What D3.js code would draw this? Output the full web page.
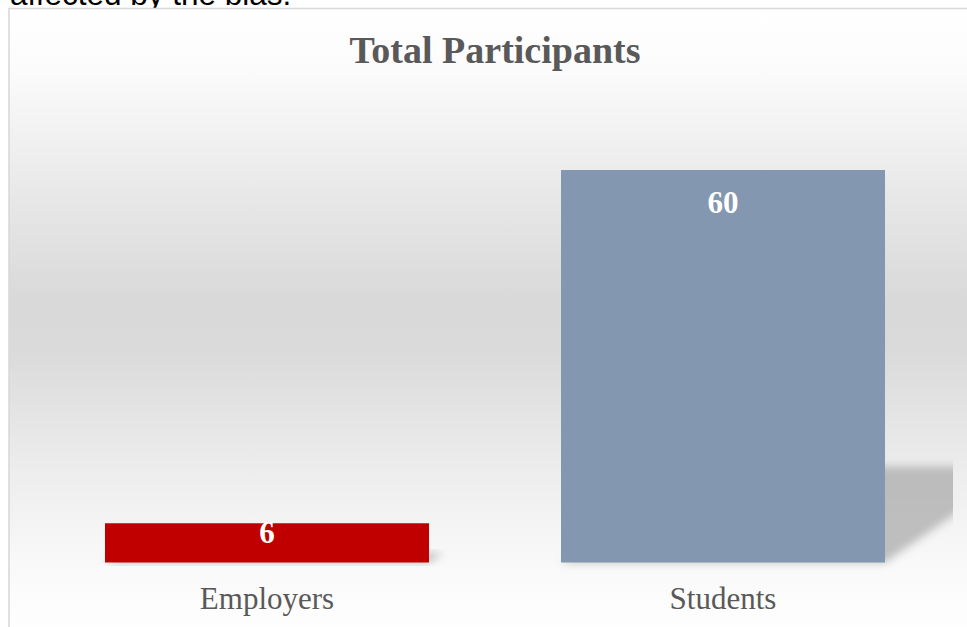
<!DOCTYPE html>
<html>
<head>
<meta charset="utf-8">
<script src="https://cdn.jsdelivr.net/npm/d3@7/dist/d3.min.js"></script>
<style>
  html, body { margin: 0; padding: 0; background: #ffffff; overflow: hidden; }
  svg { display: block; }
</style>
</head>
<body>
<svg id="chart" width="967" height="627"></svg>
<script>
// Chart data
const categories = ["Employers", "Students"];
const participants = [6, 60];
const barColors = ["#C00000", "#8497B0"];
const chartTitle = "Total Participants";
const leadText = "affected by the bias.";

const W = 967, H = 627;
const svg = d3.select("#chart");
const defs = svg.append("defs");

// Vertical light-grey gradient of the chart box
const grad = defs.append("linearGradient")
  .attr("id", "bgGrad").attr("gradientUnits", "userSpaceOnUse")
  .attr("x1", 0).attr("y1", 9).attr("x2", 0).attr("y2", 627);
[[0, "#ffffff"], [0.1, "#fbfbfb"], [0.3, "#e8e8e8"], [0.47, "#d9d9d9"],
 [0.55, "#dadada"], [0.75, "#ededed"], [0.9, "#f9f9f9"], [1, "#fefefe"]]
  .forEach(([o, c]) => grad.append("stop").attr("offset", o).attr("stop-color", c));

// Soft shadow blur
defs.append("filter").attr("id", "shadowBlur")
  .attr("x", "-20%").attr("y", "-30%").attr("width", "140%").attr("height", "160%")
  .append("feGaussianBlur").attr("stdDeviation", 4.5);

// Plot area clip
const plot = { left: 39, right: 951, clipRight: 953, top: 60, bottom: 562.5 };
defs.append("clipPath").attr("id", "plotClip")
  .append("rect").attr("x", plot.left).attr("y", plot.top)
  .attr("width", plot.clipRight - plot.left).attr("height", plot.bottom - plot.top + 10);

// Text above the chart (partially cut off)
svg.append("text")
  .attr("x", 10).attr("y", 5)
  .attr("font-family", "'Liberation Sans', Arial, sans-serif")
  .attr("font-size", 31.5)
  .attr("fill", "#000000")
  .text(leadText);

// Chart box
svg.append("rect")
  .attr("x", 9).attr("y", 8.5)
  .attr("width", W + 20).attr("height", H + 40)
  .attr("fill", "url(#bgGrad)")
  .attr("stroke", "#d9d9d9").attr("stroke-width", 1.6);

// Scales
const x = d3.scaleBand().domain(categories)
  .range([plot.left, plot.right]).paddingInner(0.2895).paddingOuter(0.1447);
const y = d3.scaleLinear().domain([0, 70])
  .range([plot.bottom, plot.bottom - 70 * (plot.bottom - 170) / 60]);

// Perspective shadows behind bars
const shadowG = svg.append("g").attr("clip-path", "url(#plotClip)");
shadowG.selectAll("path").data(categories).join("path")
  .attr("d", (c, i) => {
    const x0 = x(c), x1 = x(c) + x.bandwidth();
    const h = y(0) - y(participants[i]);
    const sh = h * 0.245, skew = sh * 1.45;
    return `M${x0},${y(0)} L${x1},${y(0)} L${x1 + skew},${y(0) - sh} L${x0 + skew},${y(0) - sh} Z`;
  })
  .attr("fill", "#b4b4b4")
  .attr("opacity", 0.85)
  .attr("filter", "url(#shadowBlur)");

// Bars
svg.append("g").selectAll("rect").data(categories).join("rect")
  .attr("x", c => x(c))
  .attr("y", (c, i) => y(participants[i]))
  .attr("width", x.bandwidth())
  .attr("height", (c, i) => y(0) - y(participants[i]))
  .attr("fill", (c, i) => barColors[i]);

// Value labels inside bar ends
svg.append("g").selectAll("text").data(categories).join("text")
  .attr("x", c => x(c) + x.bandwidth() / 2)
  .attr("y", (c, i) => {
    const h = y(0) - y(participants[i]);
    return y(participants[i]) + Math.min(43, h * 0.5);
  })
  .attr("text-anchor", "middle")
  .attr("font-family", "'Liberation Serif', 'Times New Roman', serif")
  .attr("font-weight", "bold")
  .attr("font-size", 31)
  .attr("fill", "#ffffff")
  .text((c, i) => participants[i]);

// Category axis (labels only)
const xAxis = svg.append("g")
  .attr("transform", `translate(0,${plot.bottom})`)
  .call(d3.axisBottom(x).tickSize(0).tickPadding(0));
xAxis.select(".domain").remove();
xAxis.selectAll("text")
  .attr("y", 46.5)
  .attr("dy", null)
  .attr("font-family", "'Liberation Serif', 'Times New Roman', serif")
  .attr("font-size", 31)
  .attr("fill", "#595959");

// Title
svg.append("text")
  .attr("x", 495).attr("y", 63)
  .attr("text-anchor", "middle")
  .attr("font-family", "'Liberation Serif', 'Times New Roman', serif")
  .attr("font-weight", "bold")
  .attr("font-size", 38)
  .attr("fill", "#595959")
  .text(chartTitle);
</script>
</body>
</html>
